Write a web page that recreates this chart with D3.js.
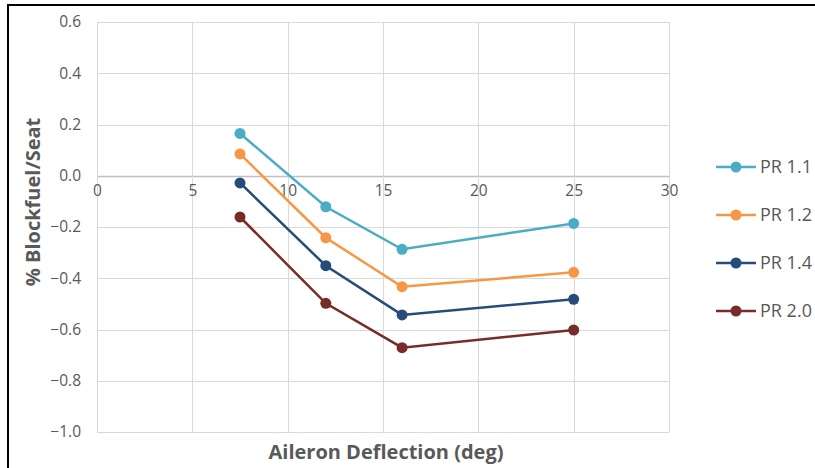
<!DOCTYPE html>
<html>
<head>
<meta charset="utf-8">
<script src="https://cdn.jsdelivr.net/npm/d3@7"></script>
<style>
	body { margin: 0; background: #fff; }
	text { font-family: "Open Sans", "Liberation Sans", sans-serif; fill: #595959; }
</style>
</head>
<body>
<div class="graph"></div>
<script>
// aileron deflection (deg)
var deflection = [7.5, 12, 16, 25];

var pr11 = [0.165, -0.121, -0.287, -0.186];
var pr12 = [0.085, -0.242, -0.433, -0.377];
var pr14 = [-0.028, -0.351, -0.543, -0.482];
var pr20 = [-0.161, -0.498, -0.671, -0.602];

var seriesNames = ["PR 1.1", "PR 1.2", "PR 1.4", "PR 2.0"];
var seriesColors = ["#4bacc6", "#f79646", "#264d7a", "#772c2a"];

var xTicks = [0, 5, 10, 15, 20, 25, 30];
var yTicks = [0.6, 0.4, 0.2, 0.0, -0.2, -0.4, -0.6, -0.8, -1.0];

window.onload = function(){
	const WIDTH = 815;
	const HEIGHT = 468;

	var allSeries = [pr11, pr12, pr14, pr20];

	var xScale = d3.scaleLinear().domain([0, 30]).range([97, 669]);
	var yScale = d3.scaleLinear().domain([-1.0, 0.6]).range([432, 22]);

	var svg = d3.select(".graph").append("svg")
		.attr("width", WIDTH)
		.attr("height", HEIGHT);

	// frame lines (top and left only)
	svg.append("line").attr("x1", 7).attr("x2", WIDTH).attr("y1", 5).attr("y2", 5)
		.attr("stroke", "#000").attr("stroke-width", 2);
	svg.append("line").attr("x1", 8).attr("x2", 8).attr("y1", 4).attr("y2", HEIGHT)
		.attr("stroke", "#000").attr("stroke-width", 2);

	// gridlines
	svg.append("g").selectAll("line").data(yTicks).enter().append("line")
		.attr("x1", xScale(0)).attr("x2", xScale(30))
		.attr("y1", function(d){ return Math.round(yScale(d)) + 0.5; })
		.attr("y2", function(d){ return Math.round(yScale(d)) + 0.5; })
		.attr("stroke", function(d){ return d === 0 ? "#bfbfbf" : "#d9d9d9"; })
		.attr("stroke-width", function(d){ return d === 0 ? 1.5 : 1; });

	svg.append("g").selectAll("line").data(xTicks).enter().append("line")
		.attr("x1", function(d){ return Math.round(xScale(d)) + 0.5; })
		.attr("x2", function(d){ return Math.round(xScale(d)) + 0.5; })
		.attr("y1", yScale(0.6)).attr("y2", yScale(-1.0))
		.attr("stroke", "#d9d9d9");

	// y tick labels
	var yAxis = d3.axisLeft(yScale).tickValues(yTicks).tickFormat(d3.format(".1f")).tickSize(0).tickPadding(16);
	var yg = svg.append("g")
		.attr("class", "y axis")
		.attr("transform", "translate(" + xScale(0) + ",0)")
		.call(yAxis);
	yg.select(".domain").remove();
	yg.selectAll("text").style("font-size", "15.5px").attr("fill", "#595959");

	// x tick labels sit just under the zero line
	var xAxis = d3.axisBottom(xScale).tickValues(xTicks).tickSize(0).tickPadding(9);
	var xg = svg.append("g")
		.attr("class", "x axis")
		.attr("transform", "translate(0," + yScale(0) + ")")
		.call(xAxis);
	xg.select(".domain").remove();
	xg.selectAll("text").style("font-size", "15.5px").attr("fill", "#595959");

	var line = d3.line()
		.x(function(d,i){ return xScale(deflection[i]); })
		.y(function(d){ return yScale(d); });

	allSeries.forEach(function(s, k){
		svg.append("path")
			.attr("d", line(s))
			.attr("fill", "none")
			.attr("stroke", seriesColors[k])
			.attr("stroke-width", 2.5);
		svg.append("g").selectAll("circle").data(s).enter().append("circle")
			.attr("cx", function(d,i){ return xScale(deflection[i]); })
			.attr("cy", function(d){ return yScale(d); })
			.attr("r", 5.5)
			.attr("fill", seriesColors[k]);
	});

	// legend
	var legend = svg.append("g").selectAll("g").data(seriesNames).enter().append("g")
		.attr("transform", function(d,i){ return "translate(716," + (167 + i * 48) + ")"; });
	legend.append("line").attr("x1", 0).attr("x2", 40).attr("y1", 0).attr("y2", 0)
		.attr("stroke", function(d,i){ return seriesColors[i]; }).attr("stroke-width", 2.5);
	legend.append("circle").attr("cx", 20).attr("cy", 0).attr("r", 5.5)
		.attr("fill", function(d,i){ return seriesColors[i]; });
	legend.append("text").attr("x", 44).attr("y", 0).attr("dy", "0.35em")
		.style("font-size", "18px").text(function(d){ return d; });

	// axis titles
	svg.append("text")
		.attr("x", 386).attr("y", 452).attr("dy", "0.35em")
		.attr("text-anchor", "middle")
		.style("font-size", "20px").style("font-weight", "bold")
		.text("Aileron Deflection (deg)");

	svg.append("text")
		.attr("transform", "translate(33,202) rotate(-90)")
		.attr("dy", "0.35em")
		.attr("text-anchor", "middle")
		.style("font-size", "20px").style("font-weight", "bold")
		.text("% Blockfuel/Seat");
};
</script>
</body>
</html>
